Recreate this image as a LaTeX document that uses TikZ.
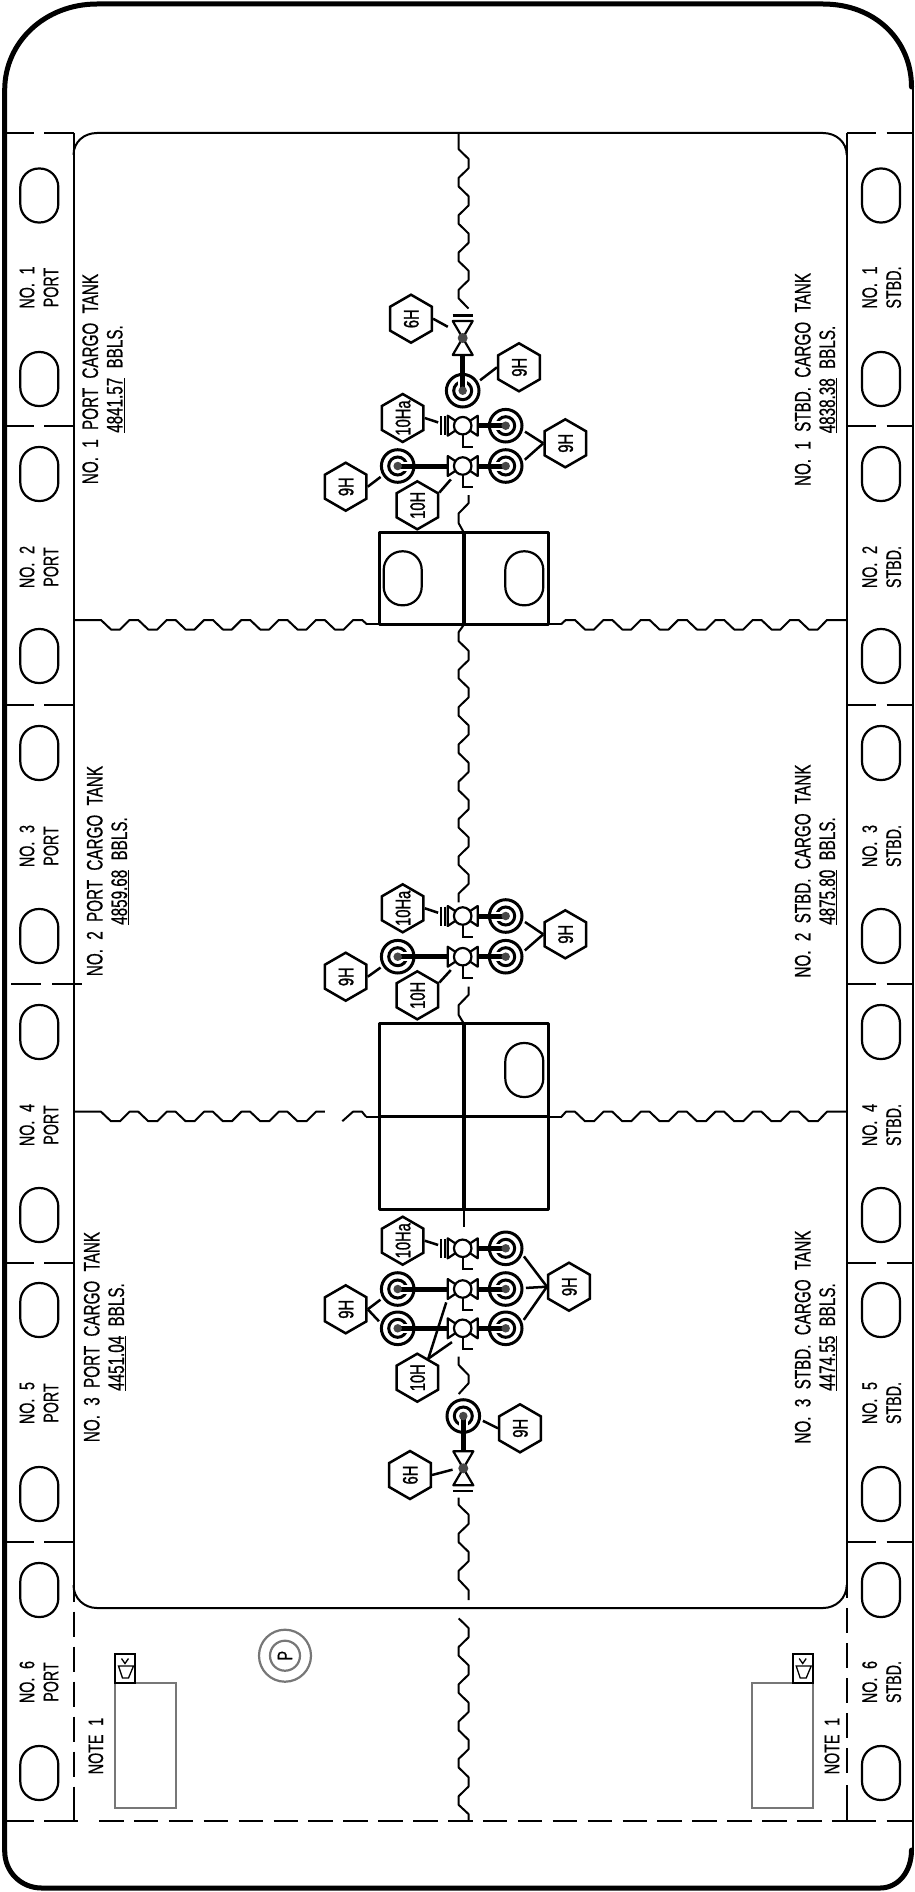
\documentclass[tikz,border=0pt]{standalone}
\usepackage{fontspec}
\setmainfont[FakeStretch=0.68,WordSpace=2.2,FakeBold=0.6]{Liberation Sans}
\newfontfamily\tagfont[FakeStretch=0.7,FakeBold=1.2]{Liberation Sans}
\usetikzlibrary{calc,shapes}
\definecolor{notegray}{HTML}{777777}
\definecolor{dotgray}{HTML}{484848}
\newcommand{\cadfont}{\fontsize{21}{24}\selectfont}
\newcommand{\hexlab}[1]{\makebox[0pt]{\raisebox{-0.36em}[0pt][0pt]{#1}}}

\tikzset{
	hull/.style={line width=5pt,line cap=round},
	plate/.style={line width=2pt},
	wave/.style={line width=2pt,line join=round},
	boxline/.style={line width=3pt,line join=round},
	notebox/.style={line width=1.8pt,draw=notegray},
	slotline/.style={line width=2.2pt},
	symline/.style={line width=2.2pt,line join=round},
	pipeline/.style={line width=5pt},
	pipegap/.style={line width=9pt,white},
	leader/.style={line width=2.5pt,shorten >=2.5pt},
	bullring/.style={draw,circle,line width=3pt,inner sep=0pt},
	bulldot/.style={circle,fill=dotgray,inner sep=0pt,minimum size=8.5pt},
	valvering/.style={draw,circle,fill=white,line width=2.2pt,inner sep=0pt,minimum size=17.5pt},
	hextag/.style={draw,regular polygon,regular polygon sides=6,minimum size=48pt,inner sep=0pt,line width=2.5pt,rotate=90,font=\tagfont\cadfont},
	roomlab/.style={rotate=90,align=center,font=\cadfont,inner sep=0pt},
	tanklab/.style={rotate=90,align=center,font=\fontsize{22.4}{24.5}\selectfont,inner sep=0pt}
}

% oval opening, x y
\newcommand{\slot}[2]{\draw[slotline,rounded corners=18.5pt] ({#1-19},{#2-27}) rectangle ({#1+19},{#2+27});}
% wave cycles along x and along y, to be used inside a path
\newcommand{\cyclesx}[3]{\foreach \k in {1,...,#3} { -- ({#1+37.3*(\k-1)+10},{#2+9.5}) -- ({#1+37.3*(\k-1)+19},{#2+9.5}) -- ({#1+37.3*(\k-1)+28.5},#2) -- ({#1+37.3*\k},#2)}}
\newcommand{\cyclesy}[2]{\foreach \k in {1,...,#2} { -- (468.5,{#1+37.3*(\k-1)+9.5}) -- (468.5,{#1+37.3*(\k-1)+19}) -- (458.7,{#1+37.3*(\k-1)+28.5}) -- (458.7,{#1+37.3*\k})}}
% suction bellmouth
\newcommand{\bullseye}[2]{
	\node[bullring,minimum size=32.6pt] (#1) at (#2) {};
	\node[bullring,minimum size=18pt] (#1i) at (#2) {};
}
% pipe from bellmouth to valve
\newcommand{\pipe}[2]{
	\draw[pipegap] (#1.center) -- ($(#1.center)!13pt!(#2)$);
	\draw[pipeline] (#1.center) -- (#2);
	\node[bulldot] (#1d) at (#1.center) {};
}
% valve with handle
\newcommand{\valve}[2]{
	\begin{scope}[shift={(#2)}]
		\draw[symline] (-15,-10) -- (-15,10) -- (15,-10) -- (15,10) -- cycle;
		\draw[line width=2pt] (0,8) -- (0,21) -- (10,21);
		\node[valvering] (#1) at (0,0) {};
		\coordinate (#1l) at (-15,0);
		\coordinate (#1r) at (15,0);
	\end{scope}
}
% blank flange in front of a valve
\newcommand{\capbars}[1]{
	\draw[symline] ($(#1)+(-21.7,-9.5)$) -- ($(#1)+(-21.7,9.5)$);
	\draw[symline] ($(#1)+(-17.5,-9.5)$) -- ($(#1)+(-17.5,9.5)$);
}
% drop valve, third argument -1 flange above, 1 flange below
\newcommand{\gate}[3]{
	\begin{scope}[shift={(#2)}]
		\draw[symline] (-10,-17) -- (10,-17) -- (-10,17) -- (10,17) -- cycle;
		\draw[symline] (-10,{#3*22.5}) -- (10,{#3*22.5});
		\node[bulldot,minimum size=10pt] (#1) at (0,0) {};
		\coordinate (#1p) at (0,{-#3*17});
	\end{scope}
}

\begin{document}
\begin{tikzpicture}[x=1pt,y=-1pt]
	\useasboundingbox (0,0) rectangle (915,1892);

	% hull
	\draw[hull] (4.7,1851) -- (4.7,90) .. controls (4.7,42) and (45,4) .. (97,4) -- (823,4) .. controls (875,4) and (911.5,40) .. (911.5,87);
	\draw[plate] (913,87) -- (913,1850);
	\draw[hull] (4.7,1851) .. controls (4.7,1872) and (21,1888) .. (41.7,1888) -- (880,1888) .. controls (898,1888) and (911.5,1872) .. (911.5,1850);

	% tank outline
	\draw[plate] (73.5,155) .. controls (73.5,142) and (84,133) .. (97,133) -- (823,133) .. controls (836,133) and (846.7,142) .. (846.7,155);
	\draw[plate] (73.5,1585) .. controls (73.5,1598) and (84,1608) .. (97,1608) -- (823,1608) .. controls (836,1608) and (846.7,1598) .. (846.7,1585);
	\draw[plate] (73.5,133) -- (73.5,1601.7);
	\draw[plate,dash pattern=on 25pt off 10pt] (73.5,1611.7) -- (73.5,1780);
	\draw[plate] (73.5,1786.7) -- (73.5,1821);
	\draw[plate] (846.7,133) -- (846.7,1598);
	\draw[plate,dash pattern=on 25pt off 10pt] (846.7,1608.3) -- (846.7,1778);
	\draw[plate] (846.7,1785) -- (846.7,1821);

	% frames
	\foreach \y in {133,426,705,1263,1542,1821} {
		\draw[plate] (5,\y) -- (33.5,\y);
		\draw[plate] (44.3,\y) -- (73.5,\y);
	}
	\draw[plate] (11,984) -- (41,984);
	\draw[plate] (52,984) -- (82,984);
	\foreach \y in {133,426,705,984,1263,1542,1821} {
		\draw[plate] (846.7,\y) -- (875.7,\y);
		\draw[plate] (886.5,\y) -- (913,\y);
	}
	\draw[plate] (44.3,1821) -- (78,1821);
	\draw[plate,dash pattern=on 24.5pt off 10.4pt] (99,1821) -- (846.7,1821);

	% oval openings
	\foreach \y in {195.5,379,474,656,753,936,1032,1215,1310,1494,1590,1773} {
		\slot{39.3}{\y}
		\slot{881}{\y}
	}
	\slot{402.7}{578.3}
	\slot{524.3}{578.3}
	\slot{524.3}{1070}

	% bulkheads, port and starboard
	\draw[wave] (73.5,620) -- (101,620) \cyclesx{101}{620}{7} -- (367,624.3);
	\draw[wave] (561,624.3) -- (565.7,620) -- (575,620) \cyclesx{575}{620}{6} -- (808.8,629.5) -- (817.8,629.5) -- (827,620) -- (846.7,620);
	\draw[wave] (73.5,1111.7) -- (101,1111.7) \cyclesx{101}{1111.7}{6};
	\draw[wave] (342.3,1121.2) -- (353,1111.7) -- (362,1111.7) -- (366,1116.7);
	\draw[wave] (561.5,1116.7) -- (566,1111.7) -- (575,1111.7) \cyclesx{575}{1111.7}{6} -- (808.8,1121.2) -- (817.8,1121.2) -- (827,1111.7) -- (846.7,1111.7);

	% centre line
	\draw[wave] (458.7,133) -- (458.7,149.3) \cyclesy{149.3}{4} -- (468.5,308.5);
	\draw[wave] (468.5,495) -- (468.5,503.3) -- (458.7,513.3) -- (458.7,523.3) -- (463.7,532.3);
	\draw[wave] (463.7,625) -- (458.7,632) -- (458.7,641.2) \cyclesy{641.2}{7};
	\draw[wave] (468.5,986.7) -- (468.5,995) -- (458.7,1005) -- (458.7,1015) -- (463.7,1023.3);
	\draw[plate] (463.7,1209.3) -- (463.7,1227.3);
	\draw[wave] (458.7,1356.7) -- (458.7,1365) -- (468.5,1375) -- (468.5,1383.3) -- (458.7,1394);
	\draw[wave] (458.7,1497.7) -- (458.7,1505) \cyclesy{1505}{2} -- (468.5,1590) -- (468.5,1600);
	\draw[wave] (458.7,1618.4) \cyclesy{1618.4}{5} -- (468.5,1814) -- (468.5,1821);

	% pump room and manifold boxes
	\draw[boxline] (379,532.3) rectangle (548.3,624.3);
	\draw[boxline] (379,1023.3) rectangle (548.3,1209.3);
	\draw[line width=2pt] (366,624.3) -- (379,624.3);
	\draw[line width=2pt] (548.3,624.3) -- (561,624.3);
	\draw[line width=2pt] (366,1116.7) -- (379,1116.7);
	\draw[line width=2pt] (548.3,1116.7) -- (561.5,1116.7);
	\draw[boxline] (379,1116.7) -- (548.3,1116.7);
	\draw[line width=3.6pt] (463.7,532.3) -- (463.7,624.3);
	\draw[line width=3.6pt] (463.7,1023.3) -- (463.7,1209.3);

	% labels
	\node[tanklab] (tankOneP) at (103.5,379) {NO. 1 PORT CARGO TANK\\\underline{4841.57} BBLS.};
	\node[tanklab] (tankOneS) at (816,379.5) {NO. 1 STBD. CARGO TANK\\\underline{4838.38} BBLS.};
	\node[tanklab] (tankTwoP) at (108,871) {NO. 2 PORT CARGO TANK\\\underline{4859.68} BBLS.};
	\node[tanklab] (tankTwoS) at (816,871) {NO. 2 STBD. CARGO TANK\\\underline{4875.80} BBLS.};
	\node[tanklab] (tankThreeP) at (105,1337) {NO. 3 PORT CARGO TANK\\\underline{4451.04} BBLS.};
	\node[tanklab] (tankThreeS) at (816,1337) {NO. 3 STBD. CARGO TANK\\\underline{4474.55} BBLS.};
	\foreach \n/\y in {1/287.5,2/567,3/846,4/1125,5/1403,6/1682} {
		\node[roomlab] (roomP\n) at (39,\y) {NO. \n\\PORT};
		\node[roomlab] (roomS\n) at (881.7,\y) {NO. \n\\STBD.};
	}
	\node[roomlab] (noteP) at (95.8,1746) {NOTE 1};
	\node[roomlab] (noteS) at (832,1746) {NOTE 1};

	% note boxes
	\draw[notebox] (115,1683) rectangle (175.7,1808);
	\draw[notebox] (751.7,1683) rectangle (812.7,1808);
	\foreach \x in {115,792.7} {
		\draw[plate,line width=1.6pt] (\x,1654) rectangle ({\x+20},1683);
		\draw[line width=1.3pt] ({\x+3.5},1666) -- ({\x+18.5},1666) -- ({\x+13.5},1678) -- ({\x+7.5},1678) -- cycle;
		\draw[line width=1.3pt] ({\x+6.5},1658.5) -- ({\x+10},1663.5) -- ({\x+13.5},1658.5);
	}
	\node[draw=notegray,circle,line width=2.2pt,minimum size=52pt,inner sep=0pt] (pumpO) at (285,1655.7) {};
	\node[draw=notegray,circle,line width=2.2pt,minimum size=30pt,inner sep=0pt,rotate=90,font=\cadfont] (pumpI) at (285,1655.7) {P};

	% tank 1 suctions
	\bullseye{beT}{462.7,390.7}
	\gate{gaT}{462.7,338}{-1}
	\pipe{beT}{gaTp}
	\bullseye{beAr}{505.7,425.7}
	\bullseye{beBr}{505.7,466}
	\bullseye{beBl}{397.7,466}
	\valve{vaA}{462.7,425.7}
	\valve{vaB}{462.7,466}
	\capbars{vaA}
	\pipe{beAr}{vaAr}
	\pipe{beBr}{vaBr}
	\pipe{beBl}{vaBl}
	\node[hextag] (tagGaT) at (411,318.7) {\hexlab{6H}};
	\node[hextag] (tagBeT) at (519,367.3) {\hexlab{9H}};
	\node[hextag] (tagBeR) at (565.3,443.3) {\hexlab{9H}};
	\node[hextag] (tagBeL) at (345.7,486.7) {\hexlab{9H}};
	\node[hextag] (tagVaA) at (402.7,418) {\hexlab{10Ha}};
	\node[hextag] (tagVaB) at (417.3,505.3) {\hexlab{10H}};
	\coordinate (endGaT) at (450,328);
	\coordinate (endVaA) at (440.5,423.2);
	\coordinate (endVaB) at (452.5,477.5);
	\draw[leader] (tagGaT.south) -- (endGaT);
	\draw[leader] (tagBeT.north) -- (beT.30);
	\draw[leader] (tagBeR.north) -- (beAr.-15);
	\draw[leader] (tagBeR.north) -- (beBr.15);
	\draw[leader] (tagBeL.south) -- (beBl.212);
	\draw[leader] (tagVaA.south) -- (endVaA);
	\draw[leader] (tagVaB.-60) -- (endVaB);

	% tank 2 suctions
	\bullseye{bfAr}{505.7,916}
	\bullseye{bfBr}{505.7,956.7}
	\bullseye{bfBl}{397.7,956.7}
	\valve{vbA}{462.7,916}
	\valve{vbB}{462.7,956.7}
	\capbars{vbA}
	\pipe{bfAr}{vbAr}
	\pipe{bfBr}{vbBr}
	\pipe{bfBl}{vbBl}
	\node[hextag] (tagBfR) at (565.3,934.3) {\hexlab{9H}};
	\node[hextag] (tagBfL) at (345.7,976.7) {\hexlab{9H}};
	\node[hextag] (tagVbA) at (402.7,908.3) {\hexlab{10Ha}};
	\node[hextag] (tagVbB) at (417.3,995.3) {\hexlab{10H}};
	\coordinate (endVbA) at (440.5,913.5);
	\coordinate (endVbB) at (452.5,968.2);
	\draw[leader] (tagBfR.north) -- (bfAr.-15);
	\draw[leader] (tagBfR.north) -- (bfBr.15);
	\draw[leader] (tagBfL.south) -- (bfBl.212);
	\draw[leader] (tagVbA.south) -- (endVbA);
	\draw[leader] (tagVbB.-60) -- (endVbB);

	% tank 3 suctions
	\bullseye{bgAr}{505.7,1248.3}
	\bullseye{bgBr}{505.7,1289}
	\bullseye{bgCr}{505.7,1328.3}
	\bullseye{bgBl}{397.7,1289}
	\bullseye{bgCl}{397.7,1328.3}
	\valve{vcA}{462.7,1248.3}
	\valve{vcB}{462.7,1289}
	\valve{vcC}{462.7,1328.3}
	\capbars{vcA}
	\pipe{bgAr}{vcAr}
	\pipe{bgBr}{vcBr}
	\pipe{bgCr}{vcCr}
	\pipe{bgBl}{vcBl}
	\pipe{bgCl}{vcCl}
	\bullseye{beL}{463.3,1416}
	\gate{gaL}{463.3,1468.3}{1}
	\pipe{beL}{gaLp}
	\node[hextag] (tagBgR) at (569,1286.7) {\hexlab{9H}};
	\node[hextag] (tagBgL) at (345.7,1309.3) {\hexlab{9H}};
	\node[hextag] (tagVcA) at (402.7,1240.7) {\hexlab{10Ha}};
	\node[hextag] (tagVcC) at (417.3,1377.7) {\hexlab{10H}};
	\node[hextag] (tagBeB) at (520,1428.3) {\hexlab{9H}};
	\node[hextag] (tagGaL) at (410,1475) {\hexlab{6H}};
	\coordinate (endVcA) at (440.5,1245.7);
	\coordinate (endVcB) at (447,1300);
	\coordinate (endVcC) at (454,1340.7);
	\coordinate (endGaL) at (455,1469);
	\draw[leader] (tagBgR.north) -- (bgAr.-20);
	\draw[leader] (tagBgR.north) -- (bgBr.3);
	\draw[leader] (tagBgR.north) -- (bgCr.21);
	\draw[leader] (tagBgL.south) -- (bgBl.211);
	\draw[leader] (tagBgL.south) -- (bgCl.163);
	\draw[leader] (tagVcA.south) -- (endVcA);
	\draw[leader] (tagVcC.-30) -- (endVcB);
	\draw[leader] (tagVcC.-30) -- (endVcC);
	\draw[leader] (tagBeB.north) -- (beL.-12);
	\draw[leader] (tagGaL.south) -- (endGaL);
\end{tikzpicture}
\end{document}
